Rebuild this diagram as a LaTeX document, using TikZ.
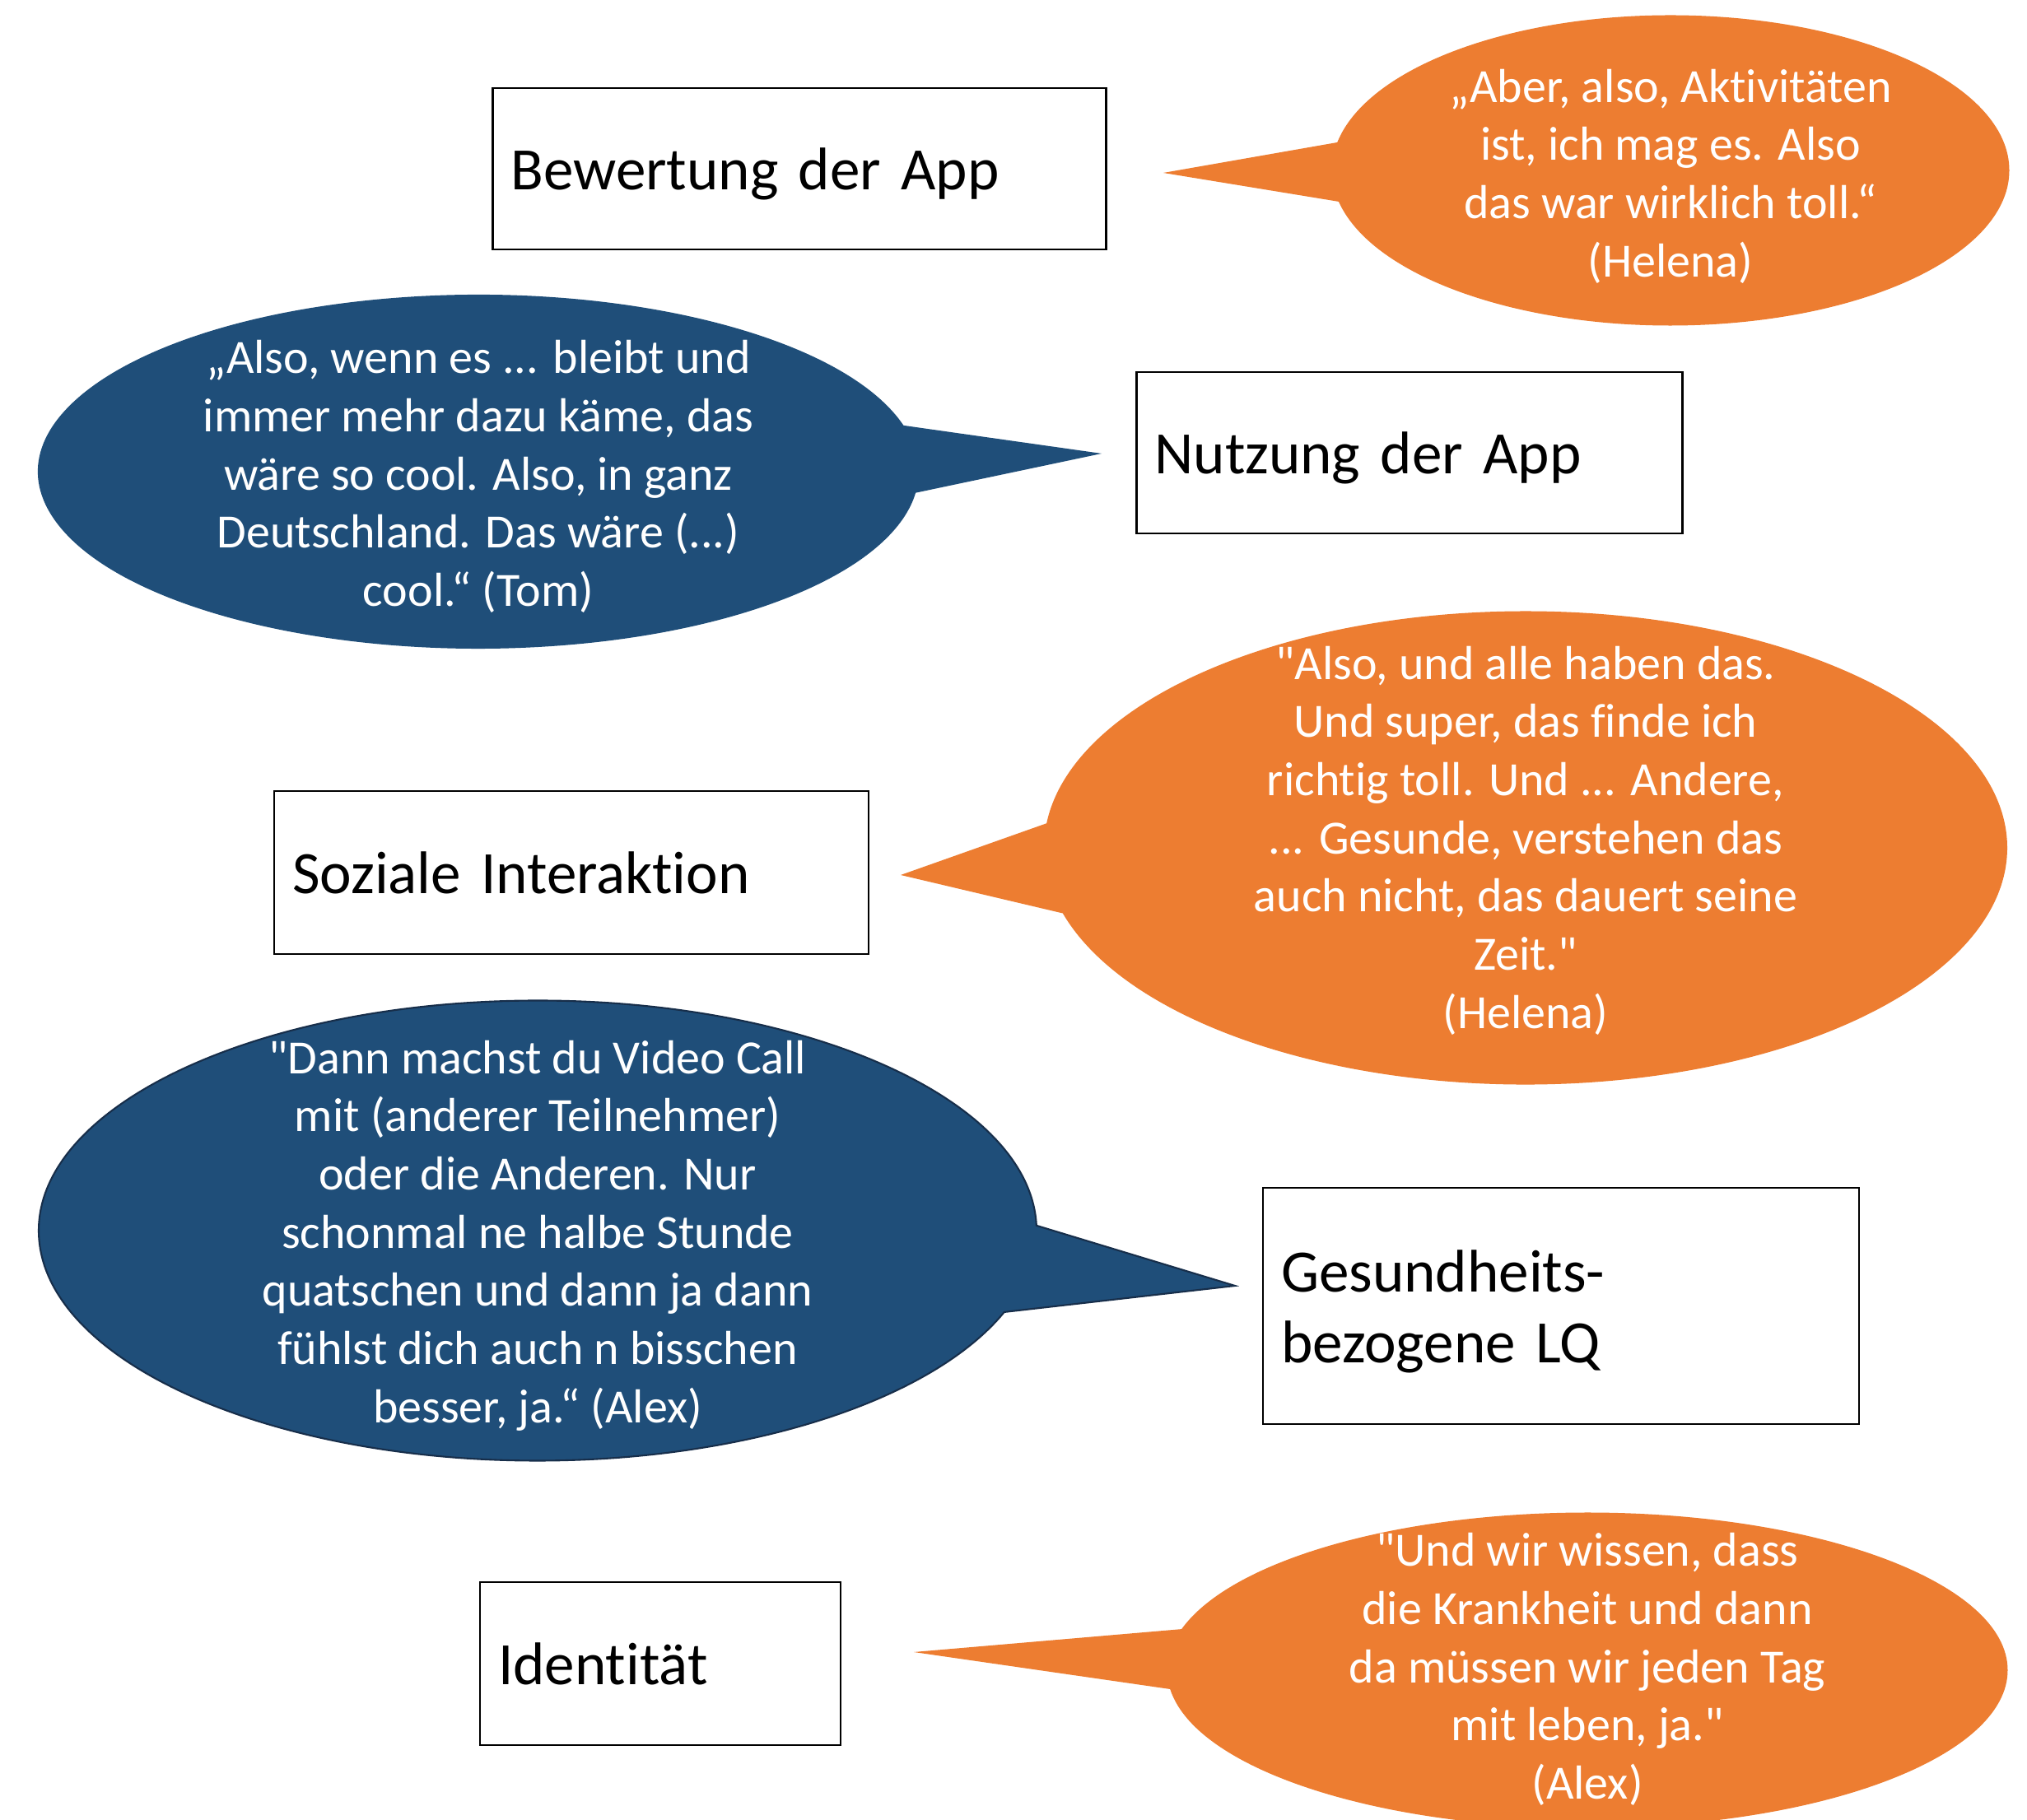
\documentclass[tikz,border=0pt]{standalone}
\usepackage{fontspec}
\setmainfont{Carlito}[Ligatures={NoCommon}]
\usetikzlibrary{shapes.callouts}
\definecolor{quoteorange}{HTML}{ED7D31}
\definecolor{quoteblue}{HTML}{1F4E79}
\definecolor{quoteline}{HTML}{172E4A}

\begin{document}
\begin{tikzpicture}[
theme/.style={
  draw,
  line width=0.6pt,
  inner xsep=0.22cm,
  inner ysep=0pt,
  text depth=0pt,
  align=left,
  font=\fontsize{20.8}{24.5}\selectfont
},
bubble/.style={
  shape=ellipse callout,
  fill=#1,
  inner sep=0pt,
  outer sep=0pt,
  callout pointer arc=22
},
quote/.style={
  text=white,
  align=center,
  inner sep=0pt,
  font=\fontsize{16.5}{20.1}\selectfont
}
]
\useasboundingbox[fill=white] (0,0) rectangle (24.62,22.11);

% themes
\node[theme,text width=7.01cm,minimum height=1.96cm] (app)
  at (9.71,20.06) {Bewertung der App};
\node[theme,text width=6.19cm,minimum height=1.96cm] (use)
  at (17.12,16.61) {Nutzung der App};
\node[theme,text width=6.78cm,minimum height=1.98cm] (social)
  at (6.94,11.51) {Soziale Interaktion};
\node[theme,text width=6.80cm,minimum height=2.87cm,text depth=0.85cm] (health)
  at (18.96,6.245) {Gesundheits-\\bezogene LQ};
\node[theme,text width=3.94cm,minimum height=1.98cm] (ident)
  at (8.02,1.90) {Identität};

% pointer tips
\coordinate (t1) at (14.13,20.01);
\coordinate (t2) at (13.38,16.60);
\coordinate (t3) at (10.94,11.48);
\coordinate (t4) at (15.00,6.49);
\coordinate (t5) at (11.10,2.04);

% quotes
\node[bubble=quoteorange,callout absolute pointer={(t1)},
  minimum width=8.23cm,minimum height=3.77cm] (c1) at (20.29,20.04) {};
\node[quote] (q1) at ([yshift=-0.07cm]c1.center)
  {„Aber, also, Aktivitäten\\ist, ich mag es. Also\\das war wirklich toll.“\\(Helena)};

\node[bubble=quoteblue,callout absolute pointer={(t2)},
  minimum width=10.70cm,minimum height=4.30cm] (c2) at (5.81,16.38) {};
\node[quote] (q2) at ([yshift=-0.06cm]c2.center)
  {„Also, wenn es ... bleibt und\\immer mehr dazu käme, das\\wäre so cool. Also, in ganz\\Deutschland. Das wäre (...)\\cool.“ (Tom)};

\node[bubble=quoteorange,callout absolute pointer={(t3)},
  minimum width=11.70cm,minimum height=5.75cm] (c3) at (18.53,11.81) {};
\node[quote] (q3) at ([yshift=0.09cm]c3.center)
  {\textquotedbl Also, und alle haben das.\\Und super, das finde ich\\richtig toll. Und ... Andere,\\... Gesunde, verstehen das\\auch nicht, das dauert seine\\Zeit.\textquotedbl\\(Helena)};

\node[bubble=quoteblue,draw=quoteline,line width=0.6pt,callout absolute pointer={(t4)},
  minimum width=12.12cm,minimum height=5.59cm] (c4) at (6.53,7.16) {};
\node[quote] (q4) at ([yshift=-0.06cm]c4.center)
  {\textquotedbl Dann machst du Video Call\\mit (anderer Teilnehmer)\\oder die Anderen. Nur\\schonmal ne halbe Stunde\\quatschen und dann ja dann\\fühlst dich auch n bisschen\\besser, ja.“ (Alex)};

\node[bubble=quoteorange,callout absolute pointer={(t5)},
  minimum width=10.21cm,minimum height=3.83cm] (c5) at (19.28,1.82) {};
\node[quote] (q5) at ([yshift=0.01cm]c5.center)
  {\textquotedbl Und wir wissen, dass\\die Krankheit und dann\\da müssen wir jeden Tag\\mit leben, ja.\textquotedbl\\(Alex)};
\end{tikzpicture}
\end{document}
